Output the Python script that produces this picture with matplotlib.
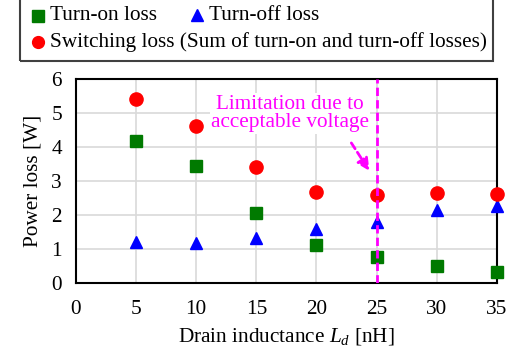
import matplotlib
matplotlib.use("Agg")
import matplotlib.pyplot as plt
from matplotlib.lines import Line2D
from matplotlib.patches import Rectangle

plt.rcParams['font.family'] = ['Liberation Serif', 'DejaVu Serif']
plt.rcParams['mathtext.fontset'] = 'custom'
plt.rcParams['mathtext.rm'] = 'Liberation Serif'
plt.rcParams['mathtext.it'] = 'Liberation Serif:italic'

# data
inductance = [5, 10, 15, 20, 25, 30, 35]
turn_on = [4.18, 3.44, 2.05, 1.12, 0.76, 0.50, 0.33]
turn_off = [1.21, 1.19, 1.33, 1.58, 1.80, 2.15, 2.27]
switching = [5.40, 4.63, 3.40, 2.69, 2.59, 2.66, 2.61]
limit_ld = 25

FS = 15.3

fig = plt.figure(figsize=(5.16, 3.56), dpi=100)
ax = fig.add_axes([0.147, 0.205, 0.816, 0.573])

ax.plot(inductance, turn_on, 's', color='#007a00', ms=8.5, ls='none', zorder=3, clip_on=False)
ax.plot(inductance, turn_off, '^', color='#0000ff', ms=9, ls='none', zorder=3, clip_on=False)
ax.plot(inductance, switching, 'o', color='#ff0000', ms=9.5, ls='none', zorder=3, clip_on=False)

ax.axvline(limit_ld, color='#ff00ff', ls=(0, (3, 1.5)), lw=2, zorder=4)
ax.text(17.8, 4.99, 'Limitation due to\nacceptable voltage', color='#ff00ff',
        fontsize=FS, ha='center', va='center', linespacing=0.95,
        bbox=dict(facecolor='white', edgecolor='none', pad=1), zorder=2.5)
ax.annotate('', xy=(24.4, 3.3), xytext=(22.9, 4.12),
            arrowprops=dict(arrowstyle='-|>', color='#ff00ff', lw=2,
                            ls=(0, (2.5, 1.5)), mutation_scale=18,
                            shrinkA=0, shrinkB=0), zorder=4)

ax.set_xlim(0, 35)
ax.set_ylim(0, 6)
ax.set_xticks(range(0, 36, 5))
ax.set_yticks(range(0, 7))
ax.grid(True, color='#d9d9d9', lw=1.2)
ax.set_axisbelow(True)
ax.tick_params(length=0, labelsize=FS)
ax.tick_params(axis='x', pad=12)
ax.tick_params(axis='y', pad=10)
for s in ax.spines.values():
    s.set_linewidth(1.5)
    s.set_color('black')

ax.set_xlabel('Drain inductance $L_d$ [nH]', fontsize=FS, labelpad=5)
ax.set_ylabel('Power loss [W]', fontsize=FS, labelpad=6)

# legend drawn in figure coordinates
W, H = 516, 356
fig.add_artist(Rectangle((20 / W, 1 - 61 / H), 473 / W, 64 / H,
                         transform=fig.transFigure, fill=False,
                         edgecolor='#404040', lw=1.5))
entries = [('s', '#007a00', 8, 38, 16, 'Turn-on loss'),
           ('^', '#0000ff', 8.5, 197, 15, 'Turn-off loss'),
           ('o', '#ff0000', 8.5, 38, 42, 'Switching loss (Sum of turn-on and turn-off losses)')]
for mk, col, ms, px, py, label in entries:
    fig.add_artist(Line2D([px / W], [1 - py / H], transform=fig.transFigure,
                          marker=mk, color=col, ms=ms, ls='none'))
    fig.text((px + 12) / W, 1 - py / H, label, fontsize=FS, va='center')

fig.savefig('out.png', dpi=100)
